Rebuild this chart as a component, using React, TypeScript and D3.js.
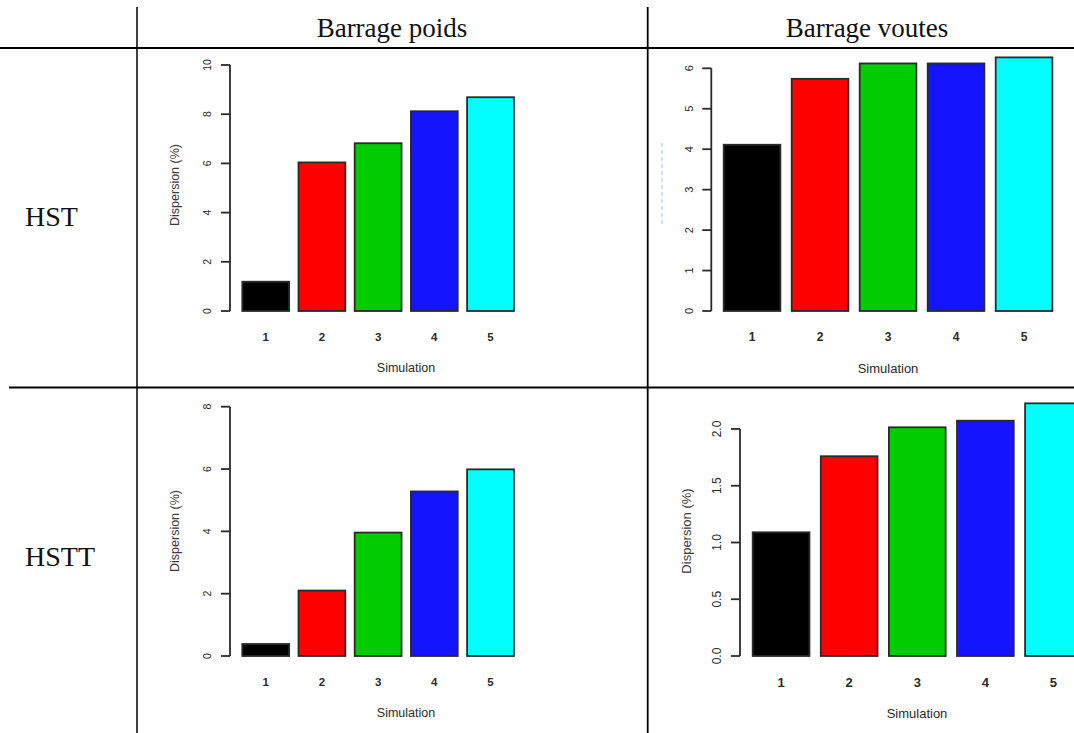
import React from "react";
import * as d3 from "d3";

const simulations = ["1", "2", "3", "4", "5"];
const barColors = ["#000000", "#ff0000", "#00cd00", "#1414ff", "#00ffff"];
const columnHeaders = ["Barrage poids", "Barrage voutes"];
const rowHeaders = ["HST", "HSTT"];

const poidsHST = [1.19, 6.04, 6.82, 8.12, 8.69];
const voutesHST = [4.11, 5.74, 6.12, 6.12, 6.27];
const poidsHSTT = [0.385, 2.1, 3.96, 5.28, 5.99];
const voutesHSTT = [1.09, 1.76, 2.015, 2.073, 2.226];

const ticksPoidsHST = [0, 2, 4, 6, 8, 10];
const ticksVoutesHST = [0, 1, 2, 3, 4, 5, 6];
const ticksPoidsHSTT = [0, 2, 4, 6, 8];
const ticksVoutesHSTT = [0, 0.5, 1, 1.5, 2];

const xLabel = "Simulation";
const yLabel = "Dispersion (%)";

type PanelCfg = {
  values: number[];
  ticks: number[];
  tickFmt: (v: number) => string;
  axisX: number;
  y0: number;
  yTop: number;
  barX0: number;
  barStep: number;
  showYLabel: boolean;
  yLabelX: number;
  yLabelY: number;
  fontSize: number;
  labelSize: number;
  tickLabelOffset: number;
  xLabelCenter: number;
  clipRight: number;
  faintLabel?: boolean;
};

const panels: PanelCfg[] = [
  {
    values: poidsHST, ticks: ticksPoidsHST, tickFmt: (v) => String(v),
    axisX: 230, y0: 311, yTop: 65, barX0: 242.3, barStep: 56.2,
    showYLabel: true, yLabelX: 175, yLabelY: 185, fontSize: 10.5, labelSize: 12.5, tickLabelOffset: 23,
    xLabelCenter: 406, clipRight: 646,
  },
  {
    values: voutesHST, ticks: ticksVoutesHST, tickFmt: (v) => String(v),
    axisX: 711.3, y0: 311, yTop: 68.3, barX0: 723.7, barStep: 68,
    showYLabel: false, yLabelX: 662, yLabelY: 185, fontSize: 11, labelSize: 13, tickLabelOffset: 22,
    xLabelCenter: 888, clipRight: 1074, faintLabel: true,
  },
  {
    values: poidsHSTT, ticks: ticksPoidsHSTT, tickFmt: (v) => String(v),
    axisX: 230, y0: 656, yTop: 406.7, barX0: 242.3, barStep: 56.2,
    showYLabel: true, yLabelX: 175, yLabelY: 531, fontSize: 10.5, labelSize: 12.5, tickLabelOffset: 23,
    xLabelCenter: 406, clipRight: 646,
  },
  {
    values: voutesHSTT, ticks: ticksVoutesHSTT, tickFmt: (v) => d3.format(".1f")(v),
    axisX: 740, y0: 656, yTop: 429, barX0: 752.7, barStep: 68.1,
    showYLabel: true, yLabelX: 686.7, yLabelY: 531, fontSize: 12, labelSize: 13, tickLabelOffset: 23,
    xLabelCenter: 917, clipRight: 1074,
  },
];

const padInner = 1 / 6;
const sans = "'Liberation Sans', Arial, sans-serif";

function Panel({ cfg, idx }: { cfg: PanelCfg; idx: number }) {
  const n = simulations.length;
  const x = d3
    .scaleBand<string>()
    .domain(simulations)
    .range([cfg.barX0, cfg.barX0 + cfg.barStep * (n - padInner)])
    .paddingInner(padInner)
    .paddingOuter(0);
  const maxTick = cfg.ticks[cfg.ticks.length - 1];
  const y = d3.scaleLinear().domain([0, maxTick]).range([cfg.y0, cfg.yTop]);
  const textColor = "#2a2a2a";
  const clipId = `clip-${idx}`;
  return (
    <g>
      <defs>
        <clipPath id={clipId}>
          <rect x={0} y={0} width={cfg.clipRight} height={733} />
        </clipPath>
      </defs>
      <g clipPath={`url(#${clipId})`}>
        {cfg.values.map((v, i) => (
          <rect
            key={i}
            x={x(simulations[i])}
            y={y(v)}
            width={x.bandwidth()}
            height={cfg.y0 - y(v)}
            fill={barColors[i]}
            stroke="#2a2a2a"
            strokeWidth={1.8}
          />
        ))}
      </g>
      <line x1={cfg.axisX} x2={cfg.axisX} y1={y(0)} y2={y(maxTick)} stroke="#2a2a2a" strokeWidth={1.8} />
      {cfg.ticks.map((t) => (
        <g key={t}>
          <line x1={cfg.axisX - 9} x2={cfg.axisX} y1={y(t)} y2={y(t)} stroke="#2a2a2a" strokeWidth={1.8} />
          <text
            transform={`translate(${cfg.axisX - cfg.tickLabelOffset},${y(t)}) rotate(-90)`}
            textAnchor="middle"
            dominantBaseline="central"
            fontFamily={sans}
            fontSize={cfg.fontSize}
            fill={textColor}
          >
            {cfg.tickFmt(t)}
          </text>
        </g>
      ))}
      {simulations.map((s) => (
        <text
          key={s}
          x={(x(s) as number) + x.bandwidth() / 2}
          y={cfg.y0 + 26}
          textAnchor="middle"
          dominantBaseline="central"
          fontFamily={sans}
          fontSize={cfg.fontSize + 1}
          fontWeight="bold"
          fill={textColor}
        >
          {s}
        </text>
      ))}
      <text
        x={cfg.xLabelCenter}
        y={cfg.y0 + 57}
        textAnchor="middle"
        dominantBaseline="central"
        fontFamily={sans}
        fontSize={cfg.labelSize}
        fill={textColor}
      >
        {xLabel}
      </text>
      {cfg.showYLabel && (
        <text
          transform={`translate(${cfg.yLabelX},${cfg.yLabelY}) rotate(-90)`}
          textAnchor="middle"
          dominantBaseline="central"
          fontFamily={sans}
          fontSize={cfg.labelSize}
          fill="#3c3c3c"
        >
          {yLabel}
        </text>
      )}
      {cfg.faintLabel && (
        <line
          x1={cfg.yLabelX}
          x2={cfg.yLabelX}
          y1={143}
          y2={227}
          stroke="#9cc8e8"
          strokeWidth={1}
          strokeDasharray="4,3"
        />
      )}
    </g>
  );
}

export default function App() {
  const serif = "Garamond, 'Liberation Serif', 'DejaVu Serif', serif";
  return (
    <svg
      width={1074}
      height={733}
      style={{ position: "absolute", left: 0, top: 0, background: "#fff" }}
    >
      <rect x={0} y={0} width={1074} height={733} fill="#fff" />
      {panels.map((p, i) => (
        <Panel key={i} cfg={p} idx={i} />
      ))}
      <line x1={0} x2={1074} y1={48} y2={48} stroke="#000" strokeWidth={2} />
      <line x1={9} x2={1074} y1={387.5} y2={387.5} stroke="#000" strokeWidth={2.2} />
      <line x1={137} x2={137} y1={7} y2={733} stroke="#000" strokeWidth={1.5} />
      <line x1={647.7} x2={647.7} y1={7} y2={733} stroke="#000" strokeWidth={1.8} />
      <text x={392} y={37} textAnchor="middle" fontFamily={serif} fontSize={27} fill="#111">
        {columnHeaders[0]}
      </text>
      <text x={867} y={37} textAnchor="middle" fontFamily={serif} fontSize={27} fill="#111">
        {columnHeaders[1]}
      </text>
      <text x={25} y={226} fontFamily={serif} fontSize={28} fill="#111">
        {rowHeaders[0]}
      </text>
      <text x={25} y={566} fontFamily={serif} fontSize={28} fill="#111">
        {rowHeaders[1]}
      </text>
    </svg>
  );
}
